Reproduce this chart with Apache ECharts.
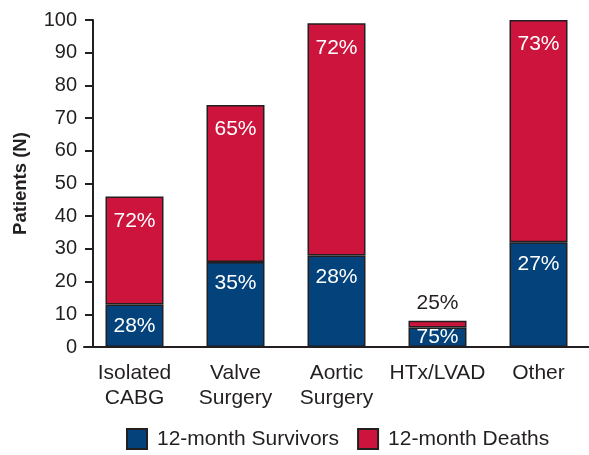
<!DOCTYPE html>
<html>
<head>
<meta charset="utf-8">
<script src="https://cdn.jsdelivr.net/npm/echarts@6/dist/echarts.min.js"></script>
<style>
  html, body { margin: 0; padding: 0; background: #fff; }
  #chart { width: 589px; height: 455px; }
</style>
</head>
<body>
<div id="chart"></div>
<script>
// categories and values
const categories = ["Isolated\nCABG", "Valve\nSurgery", "Aortic\nSurgery", "HTx/LVAD", "Other"];
const survivors = [13, 26, 28, 6, 32];
const deaths = [33, 48, 71, 2, 68];
const survivorPct = ["28%", "35%", "28%", "75%", "27%"];
const deathPct = ["72%", "65%", "72%", "25%", "73%"];
const yTicks = [0, 10, 20, 30, 40, 50, 60, 70, 80, 90, 100];

const FONT = "Liberation Sans, Arial, Helvetica, sans-serif";
const INK = "#231f20";
const BLUE = "#03427a";
const RED = "#cc143d";

const chart = echarts.init(document.getElementById("chart"), null, { renderer: "canvas" });

const labelBase = {
  show: true,
  color: "#fff",
  fontFamily: FONT,
  fontSize: 21,
  position: "insideTop",
  distance: 11,
};

const survivorData = survivors.map((v, i) => {
  const item = { value: v };
  if (i === 3) item.label = { position: "inside", distance: 0 };
  return item;
});
const deathData = deaths.map((v, i) => {
  const item = { value: v };
  if (i === 3) item.label = { position: "top", distance: 7, color: INK };
  return item;
});

chart.setOption({
  animation: false,
  grid: { left: 84, right: 0, top: 20, bottom: 108 },
  legend: {
    bottom: 5,
    left: 126,
    padding: 0,
    itemWidth: 20,
    itemHeight: 20,
    itemGap: 18,
    icon: "rect",
    textStyle: { fontFamily: FONT, fontSize: 21, color: INK, padding: [0, 0, 0, 5] },
    data: ["12-month Survivors", "12-month Deaths"],
  },
  xAxis: {
    type: "category",
    data: categories,
    axisLine: { lineStyle: { color: INK, width: 2 } },
    axisTick: { alignWithLabel: true, length: 6, lineStyle: { color: INK, width: 2 } },
    axisLabel: {
      color: INK, fontFamily: FONT, fontSize: 21, lineHeight: 25, margin: 14, interval: 0,
    },
  },
  yAxis: {
    type: "value",
    min: 0,
    max: 100,
    interval: 10,
    offset: -9,
    name: "Patients (N)",
    nameLocation: "middle",
    nameGap: 63,
    nameTextStyle: { fontFamily: FONT, fontSize: 18.5, fontWeight: "bold", color: INK },
    splitLine: { show: false },
    axisLine: { show: true, lineStyle: { color: INK, width: 2 } },
    axisTick: { show: true, length: 8, lineStyle: { color: INK, width: 2 } },
    axisLabel: {
      color: INK, fontFamily: FONT, fontSize: 20, margin: 16,
      formatter: (v) => (yTicks.includes(v) ? String(v) : ""),
    },
  },
  series: [
    {
      name: "12-month Survivors",
      type: "bar",
      stack: "total",
      barWidth: 58,
      data: survivorData,
      itemStyle: { color: BLUE, borderColor: INK, borderWidth: 1.5 },
      label: Object.assign({}, labelBase, {
        formatter: (p) => survivorPct[p.dataIndex],
      }),
    },
    {
      name: "12-month Deaths",
      type: "bar",
      stack: "total",
      barWidth: 58,
      data: deathData,
      itemStyle: { color: RED, borderColor: INK, borderWidth: 1.5 },
      label: Object.assign({}, labelBase, {
        distance: 14,
        formatter: (p) => deathPct[p.dataIndex],
      }),
    },
  ],
});
</script>
</body>
</html>
